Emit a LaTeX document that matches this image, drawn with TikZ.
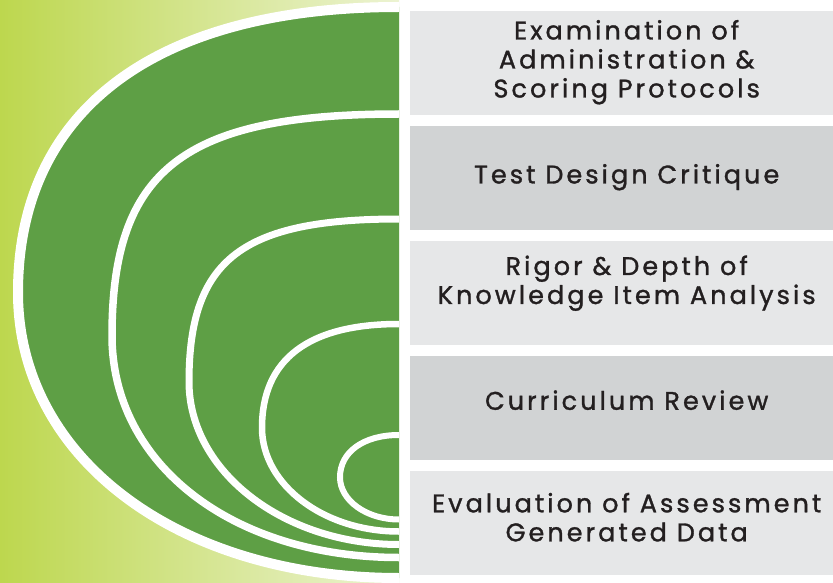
\documentclass[tikz,border=0pt]{standalone}
\usepackage{fontspec}
\newfontfamily\boxfont[LetterSpace=12, FakeBold=1.2]{Poppins}
\usetikzlibrary{positioning}

\definecolor{leafgreen}{RGB}{94,159,69}
\definecolor{limegreen}{RGB}{189,215,78}
\definecolor{palelime}{RGB}{236,243,210}
\definecolor{boxlight}{RGB}{230,231,232}
\definecolor{boxdark}{RGB}{209,211,212}
\definecolor{inktext}{RGB}{35,31,32}

\begin{document}
\begin{tikzpicture}[x=1pt, y=-1pt,
  every node/.style={font=\boxfont\fontsize{25.5}{29}\selectfont, text=inktext, align=center},
  stepbox/.style={minimum width=423pt, minimum height=104pt, inner sep=0pt, anchor=north west}]
  \useasboundingbox (0,0) rectangle (833,583);

  % Background
  \fill[white] (0,0) rectangle (833,583);
  \shade[left color=limegreen, right color=palelime] (0,0) rectangle (399,583);

  % Green half loop
  \fill[leafgreen] (399,7) .. controls ({399-0.64*381},7) and (18,{292.5-0.64*285.5}) .. (18,292.5)
    .. controls (18,{292.5+0.58*285.5}) and ({399-0.58*381},578) .. (399,578) -- cycle;

  % Rings
  \foreach \t/\l/\b/\kt/\kb/\w in {7/18/578/0.64/0.58/10, 114/112/557.5/0.75/0.58/7.5,
      219/189/544.5/0.75/0.55/7, 324/262/531.5/0.66/0.55/6.5, 435/340/519.5/0.6/0.55/6}{
    \draw[white, line width={\w pt}] (399,\t)
      .. controls ({399-\kt*(399-\l)},\t) and (\l,{(\t+\b)/2-\kt*(\b-\t)/2}) .. (\l,{(\t+\b)/2})
      .. controls (\l,{(\t+\b)/2+\kb*(\b-\t)/2}) and ({399-\kb*(399-\l)},\b) .. (399,\b);
  }

  % Steps
  \foreach \i/\c/\dy/\txt in {1/boxlight/1/{Examination of\\Administration \&\\Scoring Protocols},
      2/boxdark/1/{Test Design Critique},
      3/boxlight/10/{Rigor \& Depth of\\Knowledge Item Analysis},
      4/boxdark/8/{Curriculum Review},
      5/boxlight/6/{Evaluation of Assessment\\Generated Data}}{
    \node[stepbox, fill=\c] (box\i) at (410,{11+115*(\i-1)}) {};
    \node (lbl\i) at ([xshift=5pt, yshift=\dy pt]box\i.center) {\txt};
  }
\end{tikzpicture}
\end{document}
